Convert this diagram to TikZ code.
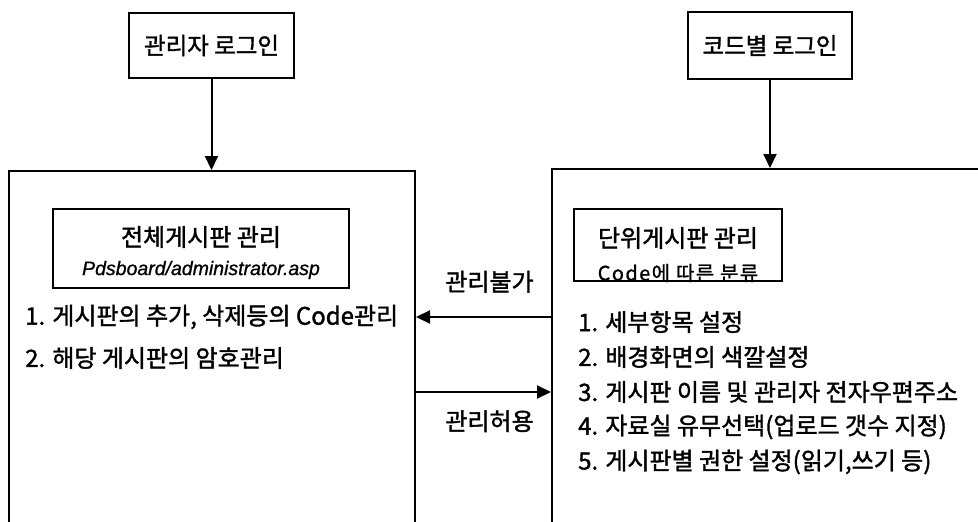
\documentclass[tikz,border=0pt]{standalone}
\usepackage{fontspec}
\setmainfont{Noto Sans CJK KR}[FakeBold=1.5]
\newfontfamily\pathfont{Liberation Sans}[FakeBold=1]
\newfontfamily\codefont{Noto Sans CJK KR}[LetterSpace=7,FakeBold=1]
\usetikzlibrary{arrows.meta,positioning}

\begin{document}
\begin{tikzpicture}[x=1pt,y=-1pt,
	every node/.style={font=\fontsize{24}{28}\selectfont},
	box/.style={draw,line width=2pt,inner sep=0pt},
	flow/.style={line width=2pt,-{Triangle[length=14pt,width=13pt]}},
	item/.style={anchor=west,inner sep=0pt}]
	\def\W{978}
	\def\H{522}
	\def\gap{35} % line distance of the lists
	
	\useasboundingbox (0,0) rectangle (\W,\H);
	\clip (0,0) rectangle (\W,\H);
	
	% logins
	\node[box,minimum width=165,minimum height=65,font=\fontsize{23.5}{28}\selectfont] (adminlogin) at (211.5,45.5) {관리자 로그인};
	\node[box,minimum width=164,minimum height=67,font=\fontsize{23.5}{28}\selectfont] (codelogin) at (770,45.5) {코드별 로그인};
	
	% panels, cut off by the page edge
	\node[box,minimum width=406,minimum height=400] (allpanel) at (212,371) {};
	\node[box,minimum width=460,minimum height=400] (unitpanel) at (782,369) {};
	\draw[flow] (adminlogin.south) -- (adminlogin.south |- allpanel.north);
	\draw[flow] (codelogin.south) -- (codelogin.south |- unitpanel.north);
	
	% boards
	\node[box,minimum width=296,minimum height=79] (allboard) at (201,248.5) {};
	\node (allboardname) at (201,237) {전체게시판 관리};
	\node[font=\pathfont\itshape\fontsize{19.5}{22}\selectfont] (allboardpath) at (201,270) {Pdsboard/administrator.asp};
	\node[box,minimum width=208,minimum height=72] (unitboard) at (678,245) {};
	\node (unitboardname) at (678,238) {단위게시판 관리};
	\node[font=\codefont\fontsize{20}{24}\selectfont] (unitboardcode) at (678,273) {Code에 따른 분류};
	
	% tasks
	\node[item] (alltask1) at (25,317) {1. 게시판의 추가, 삭제등의 Code관리};
	\node[item] (alltask2) at (25,358) {2. 해당 게시판의 암호관리};
	\foreach \t [count=\i] in {세부항목 설정,배경화면의 색깔설정,게시판 이름 및 관리자 전자우편주소,자료실 유무선택(업로드 갯수 지정),{게시판별 권한 설정(읽기,쓰기 등)}}
		\node[item] (unittask\i) at (578,{287+\gap*\i}) {\i. \t};
	
	% access between the two
	\draw[flow] (unitpanel.west |- alltask1) -- (allpanel.east |- alltask1) node[midway,above=20pt,xshift=6pt] (deny) {관리불가};
	\draw[flow] (allpanel.east |- unittask3) -- (unitpanel.west |- unittask3) node[midway,below=14pt,xshift=6pt] (allow) {관리허용};
\end{tikzpicture}
\end{document}
